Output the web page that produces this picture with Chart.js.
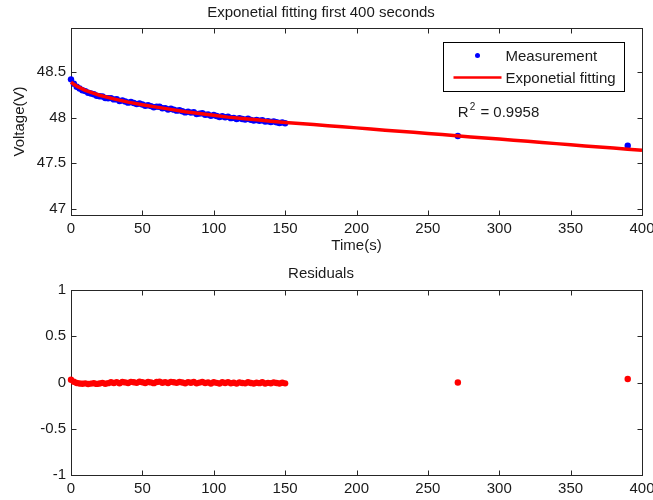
<!DOCTYPE html>
<html>
<head>
<meta charset="utf-8">
<title>Exponetial fitting first 400 seconds</title>
<script src="https://cdn.jsdelivr.net/npm/chart.js@4.4.1/dist/chart.umd.min.js"></script>
<style>
    body { margin: 0; background: #ffffff; }
    .figure { position: relative; width: 653px; height: 500px; }
    #fitChart { position: absolute; left: 0; top: 0; }
    #residualChart { position: absolute; left: 0; top: 260px; }
</style>
</head>
<body>
<div class="figure">
    <canvas id="fitChart" width="653" height="260"></canvas>
    <canvas id="residualChart" width="653" height="240"></canvas>
</div>
<script>
// Measured voltage samples (time in seconds)
const measTime = [
    0, 2, 4, 6, 8, 10, 12, 14, 16, 18,
    20, 22, 24, 26, 28, 30, 32, 34, 36, 38,
    40, 42, 44, 46, 48, 50, 52, 54, 56, 58,
    60, 62, 64, 66, 68, 70, 72, 74, 76, 78,
    80, 82, 84, 86, 88, 90, 92, 94, 96, 98,
    100, 102, 104, 106, 108, 110, 112, 114, 116, 118,
    120, 122, 124, 126, 128, 130, 132, 134, 136, 138,
    140, 142, 144, 146, 148, 150,
    271, 390
];
const measVoltage = [
    48.420, 48.373, 48.339, 48.319, 48.301, 48.291, 48.272, 48.265, 48.257, 48.240,
    48.235, 48.232, 48.215, 48.213, 48.214, 48.200, 48.202, 48.182, 48.189, 48.177,
    48.164, 48.171, 48.160, 48.148, 48.154, 48.143, 48.130, 48.136, 48.126, 48.113,
    48.120, 48.119, 48.102, 48.104, 48.089, 48.097, 48.087, 48.076, 48.081, 48.070,
    48.057, 48.065, 48.055, 48.058, 48.040, 48.044, 48.047, 48.031, 48.034, 48.019,
    48.028, 48.017, 48.006, 48.015, 48.003, 48.009, 47.994, 47.997, 47.984, 47.994,
    47.985, 47.978, 47.987, 47.975, 47.967, 47.973, 47.965, 47.971, 47.956, 47.959,
    47.952, 47.958, 47.949, 47.941, 47.947, 47.938,
    47.797, 47.690
];
// Residuals (measurement - fit), same time stamps
const residValues = [
    0.030, 0.008, -0.006, -0.011, -0.014, -0.009, -0.016, -0.012, -0.008, -0.015,
    -0.010, -0.004, -0.013, -0.007, 0.002, -0.005, 0.004, -0.008, 0.006, 0.001,
    -0.006, 0.007, 0.002, -0.004, 0.008, 0.003, -0.005, 0.006, 0.001, -0.007,
    0.005, 0.009, -0.003, 0.004, -0.006, 0.007, 0.002, -0.004, 0.006, 0.000,
    -0.008, 0.004, -0.002, 0.005, -0.009, -0.001, 0.006, -0.006, 0.001, -0.010,
    0.003, -0.004, -0.011, 0.002, -0.006, 0.004, -0.008, -0.002, -0.012, 0.001,
    -0.005, -0.009, 0.003, -0.006, -0.011, -0.002, -0.007, 0.002, -0.010, -0.004,
    -0.008, 0.001, -0.006, -0.011, -0.003, -0.009,
    0.000, 0.038
];
// Exponential fit curve
const fitTime = [
    0, 2, 5, 10, 15, 20, 30, 40, 50, 60, 70, 80, 90, 100, 110, 120, 130, 140, 150,
    160, 170, 180, 190, 200, 210, 220, 230, 240, 250, 260, 270, 280, 290, 300,
    310, 320, 330, 340, 350, 360, 370, 380, 390, 400
];
const fitVoltage = [
    48.390, 48.365, 48.337, 48.300, 48.271, 48.245, 48.205, 48.170, 48.140, 48.115,
    48.090, 48.065, 48.045, 48.025, 48.005, 47.990, 47.975, 47.960, 47.947,
    47.935, 47.923, 47.911, 47.899, 47.887, 47.875, 47.862, 47.850, 47.838, 47.825,
    47.813, 47.800, 47.788, 47.776, 47.764, 47.751, 47.739, 47.726, 47.714, 47.702,
    47.689, 47.677, 47.665, 47.652, 47.640
];
// Tick labels
const timeTicks = [0, 50, 100, 150, 200, 250, 300, 350, 400];
const voltageTicks = [47, 47.5, 48, 48.5];
const residTicks = [-1, -0.5, 0, 0.5, 1];
const rSquaredText = '0.9958';

const FONT = "'Liberation Sans', Arial, sans-serif";
const TEXT_COLOR = '#1a1a1a';
const AXIS_COLOR = '#262626';

Chart.defaults.font.family = FONT;
Chart.defaults.font.size = 15;
Chart.defaults.color = TEXT_COLOR;

function toPoints(xs, ys) {
    return xs.map((x, i) => ({ x: x, y: ys[i] }));
}

// force an axis width/height so the plot box lands where the figure has it
function fixWidth(width) {
    return function(scale) {
        scale.width = width;
        scale.paddingTop = 0;
        scale.paddingBottom = 0;
    };
}

function fixHeight(height) {
    return function(scale) {
        scale.height = height;
        scale.paddingLeft = 0;
        scale.paddingRight = 0;
    };
}

function useTicks(values) {
    return function(scale) {
        scale.ticks = values.map(v => ({ value: v }));
    };
}

// MATLAB style box with inward tick marks on all four sides
const boxFramePlugin = {
    id: 'boxFrame',
    beforeDatasetsDraw(chart) {
        const ctx = chart.ctx;
        const a = chart.chartArea;
        const l = Math.round(a.left) + 0.5, r = Math.round(a.right) + 0.5;
        const t = Math.round(a.top) + 0.5, b = Math.round(a.bottom) + 0.5;
        ctx.save();
        ctx.strokeStyle = AXIS_COLOR;
        ctx.lineWidth = 1;
        ctx.strokeRect(l, t, r - l, b - t);
        ctx.beginPath();
        chart.scales.x.ticks.forEach(tick => {
            const px = Math.round(chart.scales.x.getPixelForValue(tick.value)) + 0.5;
            ctx.moveTo(px, t); ctx.lineTo(px, t + 5);
            ctx.moveTo(px, b); ctx.lineTo(px, b - 5);
        });
        chart.scales.y.ticks.forEach(tick => {
            const py = Math.round(chart.scales.y.getPixelForValue(tick.value)) + 0.5;
            ctx.moveTo(l, py); ctx.lineTo(l + 5, py);
            ctx.moveTo(r, py); ctx.lineTo(r - 5, py);
        });
        ctx.stroke();
        ctx.restore();
    }
};

// legend box in the upper right corner plus the R^2 note
const fitNotesPlugin = {
    id: 'fitNotes',
    afterDraw(chart) {
        const ctx = chart.ctx;
        const a = chart.chartArea;
        const meas = chart.data.datasets[1];
        const fit = chart.data.datasets[0];
        const x0 = Math.round(a.right) - 198.5;
        const y0 = Math.round(a.top) + 14.5;

        ctx.save();
        ctx.fillStyle = '#ffffff';
        ctx.fillRect(x0, y0, 181, 49);
        ctx.strokeStyle = '#000000';
        ctx.lineWidth = 1;
        ctx.strokeRect(x0, y0, 181, 49);

        ctx.fillStyle = meas.backgroundColor;
        ctx.beginPath();
        ctx.arc(x0 + 34, y0 + 13, 2.5, 0, Math.PI * 2);
        ctx.fill();

        ctx.strokeStyle = fit.borderColor;
        ctx.lineWidth = 2.5;
        ctx.beginPath();
        ctx.moveTo(x0 + 10, y0 + 35);
        ctx.lineTo(x0 + 58, y0 + 35);
        ctx.stroke();

        ctx.fillStyle = TEXT_COLOR;
        ctx.font = '15px ' + FONT;
        ctx.textBaseline = 'middle';
        ctx.textAlign = 'left';
        ctx.fillText(meas.label, x0 + 62, y0 + 14);
        ctx.fillText(fit.label, x0 + 62, y0 + 36);

        // R^2 text placed in data coordinates
        const tx = chart.scales.x.getPixelForValue(271);
        const ty = chart.scales.y.getPixelForValue(48.05);
        ctx.fillText('R', tx, ty);
        const wR = ctx.measureText('R').width;
        ctx.font = '10px ' + FONT;
        ctx.fillText('2', tx + wR + 1, ty - 6);
        const w2 = ctx.measureText('2').width;
        ctx.font = '15px ' + FONT;
        ctx.fillText(' = ' + rSquaredText, tx + wR + w2 + 2, ty);
        ctx.restore();
    }
};

function initializeFitChart() {
    const ctx = document.getElementById('fitChart').getContext('2d');
    new Chart(ctx, {
        type: 'scatter',
        data: {
            datasets: [{
                label: 'Exponetial fitting',
                data: toPoints(fitTime, fitVoltage),
                showLine: true,
                borderColor: '#ff0000',
                backgroundColor: '#ff0000',
                borderWidth: 3.5,
                pointRadius: 0,
                order: 0,
                clip: false
            }, {
                label: 'Measurement',
                data: toPoints(measTime, measVoltage),
                backgroundColor: '#0000ff',
                borderWidth: 0,
                pointRadius: 3.2,
                order: 1,
                clip: false
            }]
        },
        options: {
            responsive: false,
            devicePixelRatio: 1,
            animation: false,
            events: [],
            layout: { padding: { left: 0, right: 11, top: 0, bottom: 0 } },
            plugins: {
                legend: { display: false },
                tooltip: { enabled: false },
                title: {
                    display: true,
                    text: 'Exponetial fitting first 400 seconds',
                    color: TEXT_COLOR,
                    font: { size: 15, weight: 'normal' },
                    padding: { top: 4, bottom: 6 }
                }
            },
            scales: {
                x: {
                    type: 'linear',
                    min: 0,
                    max: 400,
                    afterBuildTicks: useTicks(timeTicks),
                    afterFit: fixHeight(45),
                    grid: { display: false, drawTicks: false },
                    border: { display: false },
                    ticks: { padding: 5, maxRotation: 0, callback: v => String(v) },
                    title: { display: true, text: 'Time(s)', padding: { top: 0, bottom: 5 } }
                },
                y: {
                    type: 'linear',
                    min: 46.93,
                    max: 48.984,
                    afterBuildTicks: useTicks(voltageTicks),
                    afterFit: fixWidth(71),
                    grid: { display: false, drawTicks: false },
                    border: { display: false },
                    ticks: { padding: 5, callback: v => String(v) },
                    title: { display: true, text: 'Voltage(V)', padding: { top: 11, bottom: 0 } }
                }
            }
        },
        plugins: [boxFramePlugin, fitNotesPlugin]
    });
}

function initializeResidualChart() {
    const ctx = document.getElementById('residualChart').getContext('2d');
    new Chart(ctx, {
        type: 'scatter',
        data: {
            datasets: [{
                label: 'Residuals',
                data: toPoints(measTime, residValues),
                backgroundColor: '#ff0000',
                borderWidth: 0,
                pointRadius: 3.2,
                clip: false
            }]
        },
        options: {
            responsive: false,
            devicePixelRatio: 1,
            animation: false,
            events: [],
            layout: { padding: { left: 0, right: 11, top: 0, bottom: 0 } },
            plugins: {
                legend: { display: false },
                tooltip: { enabled: false },
                title: {
                    display: true,
                    text: 'Residuals',
                    color: TEXT_COLOR,
                    font: { size: 15, weight: 'normal' },
                    padding: { top: 5, bottom: 7 }
                }
            },
            scales: {
                x: {
                    type: 'linear',
                    min: 0,
                    max: 400,
                    afterBuildTicks: useTicks(timeTicks),
                    afterFit: fixHeight(25),
                    grid: { display: false, drawTicks: false },
                    border: { display: false },
                    ticks: { padding: 5, maxRotation: 0, callback: v => String(v) }
                },
                y: {
                    type: 'linear',
                    min: -1,
                    max: 1,
                    afterBuildTicks: useTicks(residTicks),
                    afterFit: fixWidth(71),
                    grid: { display: false, drawTicks: false },
                    border: { display: false },
                    ticks: { padding: 5, callback: v => String(v) }
                }
            }
        },
        plugins: [boxFramePlugin]
    });
}

document.addEventListener('DOMContentLoaded', function() {
    initializeFitChart();
    initializeResidualChart();
});
</script>
</body>
</html>
